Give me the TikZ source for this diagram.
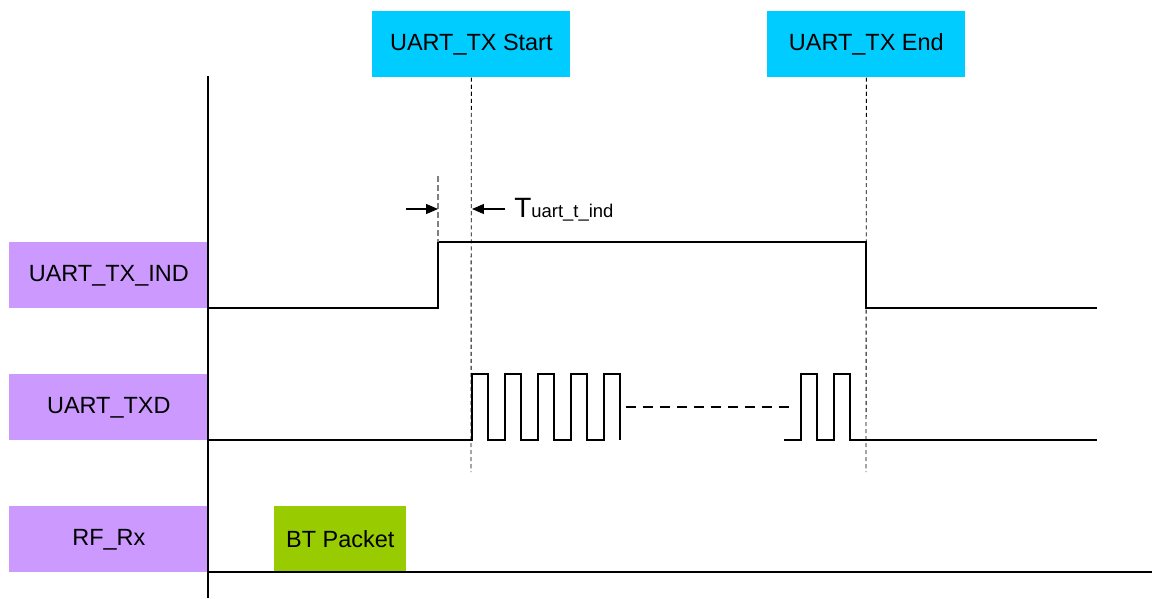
\documentclass[tikz,border=0pt]{standalone}
\usepackage{fontspec}
\setmainfont{Liberation Sans}
\usetikzlibrary{arrows.meta}

\definecolor{sigpurple}{HTML}{CC99FF}
\definecolor{evcyan}{HTML}{00CCFF}
\definecolor{pktgreen}{HTML}{99CC00}

\begin{document}
\begin{tikzpicture}[
    x=0.02cm, y=-0.02cm,
    font=\fontsize{13.35}{16}\selectfont,
    siglabel/.style = {fill=sigpurple, anchor=north west, inner sep=0pt,
                       minimum width=3.98cm, minimum height=1.32cm},
    event/.style    = {fill=evcyan, anchor=north west, inner sep=0pt,
                       minimum width=3.96cm, minimum height=1.32cm},
    packet/.style   = {fill=pktgreen, anchor=north west, inner sep=0pt,
                       minimum width=2.64cm, minimum height=1.32cm},
    wave/.style     = {line width=0.6pt, line join=miter},
    marker/.style   = {line width=0.5pt, dash pattern=on 2.3pt off 1.7pt},
    indmark/.style  = {line width=1.1pt, gray, dash pattern=on 3.4pt off 1.7pt},
    gap/.style      = {line width=0.6pt, dash pattern=on 5.7pt off 4pt},
    timing/.style   = {line width=0.6pt, -{Triangle[length=6.8pt,width=5.7pt]}},
    axis/.style     = {line width=1.4pt}
  ]
    \useasboundingbox (0,0) rectangle (1152,598);

    %% ---- signal names ----
    \node[siglabel] (ind) at (9,242) {UART\_TX\_IND};
    \node[siglabel] (txd) at (9,374) {UART\_TXD};
    \node[siglabel] (rfrx) at (9,506) {RF\_Rx};

    %% ---- events ----
    \node[event] (txstart) at (372,11) {UART\_TX Start};
    \node[event] (txend) at (767,11) {UART\_TX End};
    \coordinate (startfoot) at (471,472);
    \coordinate (endfoot) at (866,472);
    \draw[marker] (txstart.south) -- (startfoot);
    \draw[marker] (txend.south) -- (endfoot);

    %% ---- BT packet on RF_Rx ----
    \node[packet] (btpkt) at (274,506) {BT Packet};

    %% ---- UART_TX_IND ----
    \draw[wave] (208,308) -- (438,308) -- (438,242) -- (866,242)
                -- (866,308) -- (1097,308);
    \coordinate (indtop) at (438,176);
    \coordinate (indrise) at (438,242);
    \draw[indmark] (indtop) -- (indrise);

    % T_uart_t_ind
    \coordinate (arrowl) at (406,209);
    \coordinate (arrowlend) at (438,209);
    \coordinate (arrowr) at (505,209);
    \coordinate (arrowrend) at (472,209);
    \draw[timing] (arrowl) -- (arrowlend);
    \draw[timing] (arrowr) -- (arrowrend);
    \node[anchor=base west, inner sep=0pt] (tind) at (514,217)
      {{\fontsize{15.9}{18}\selectfont T}{\fontsize{10.5}{12}\selectfont uart\_t\_ind}};

    %% ---- UART_TXD ----
    \draw[wave] (208,440) -- (472,440)
      \foreach \i in {1,...,4} { -- ++(0,-66) -- ++(16,0) -- ++(0,66) -- ++(17,0) }
      -- ++(0,-66) -- ++(16,0) -- ++(0,66);
    \draw[gap] (626,407) -- (792,407);
    \draw[wave] (784,440) -- (801,440) -- (801,374) -- (817,374) -- (817,440)
                -- (834,440) -- (834,374) -- (850,374) -- (850,440) -- (1097,440);

    %% ---- RF_Rx ----
    \draw[wave] (208,572) -- (1152,572);

    %% ---- time axis ----
    \draw[axis] (208,76) -- (208,598);
  \end{tikzpicture}
\end{document}
